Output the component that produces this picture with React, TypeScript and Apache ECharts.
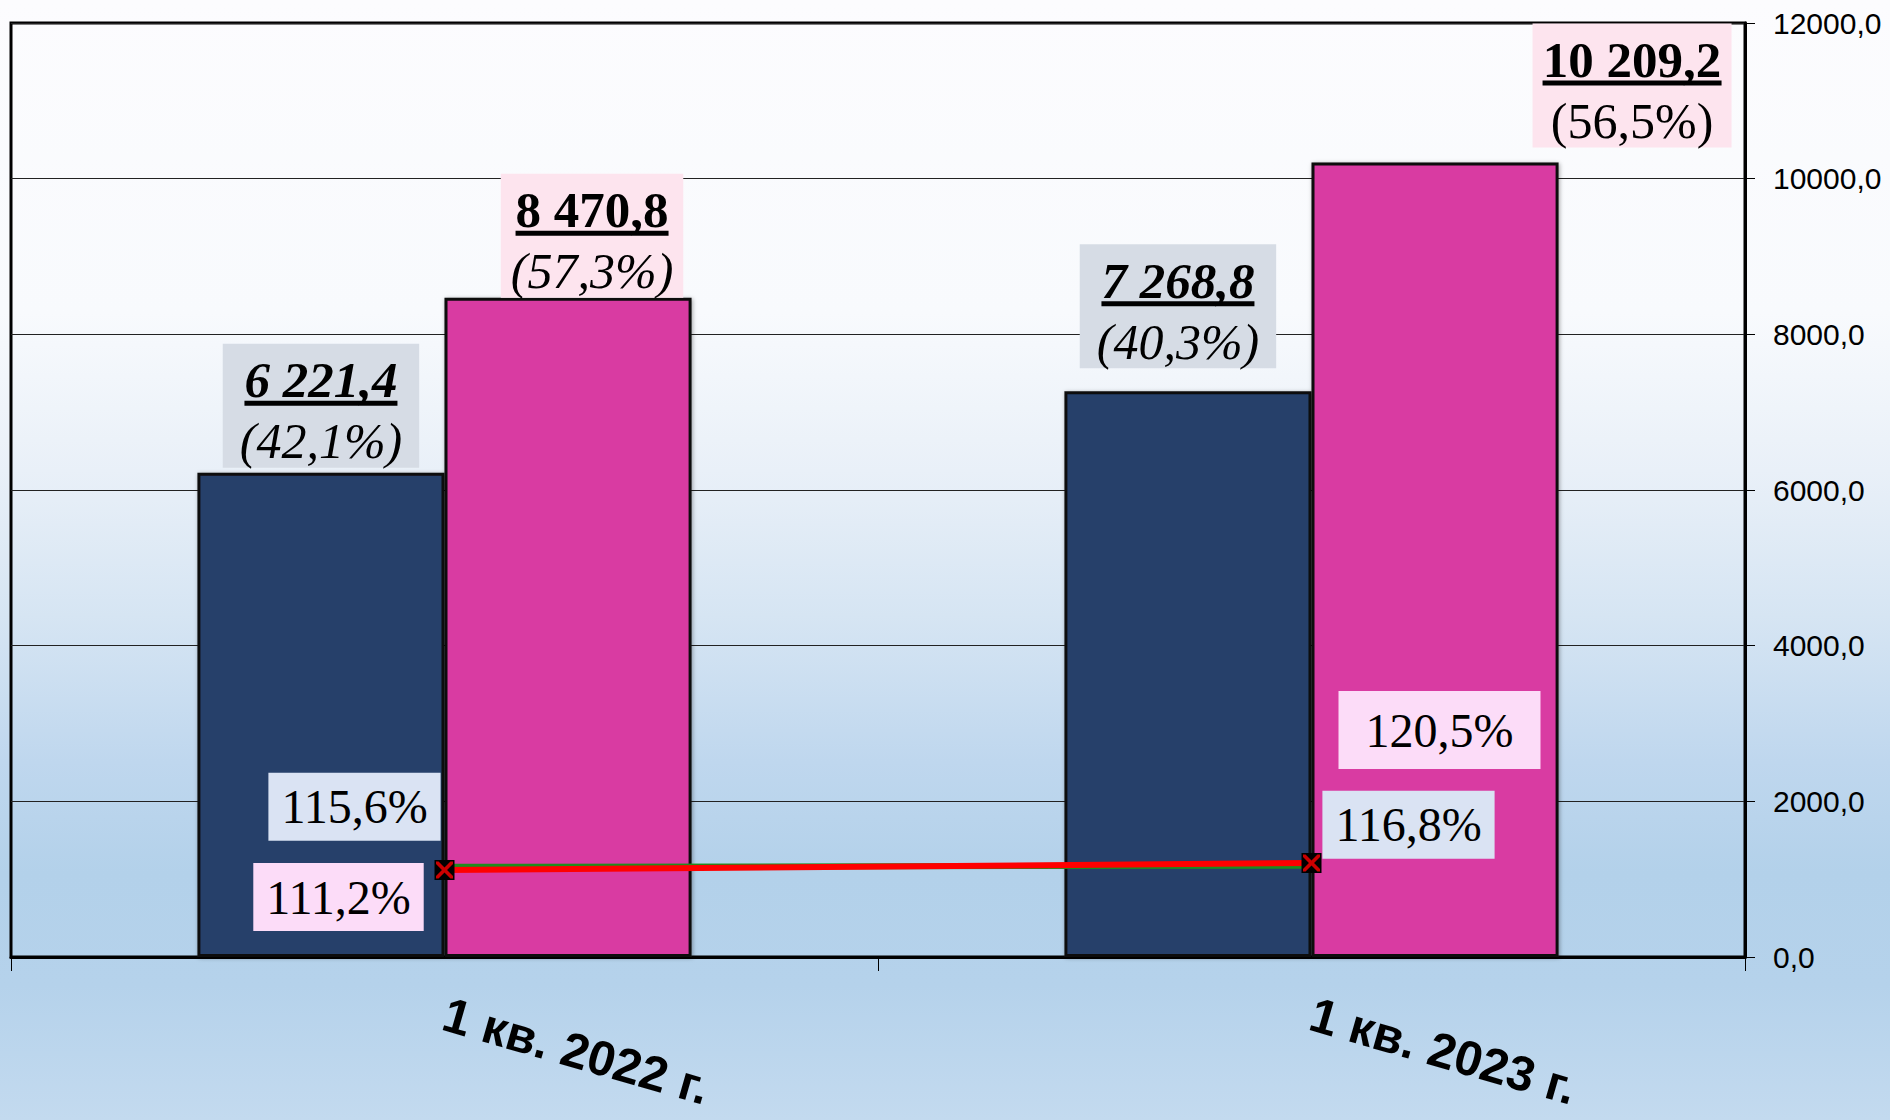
import React, { useEffect, useRef } from 'react';
import * as echarts from 'echarts';

// ---- data ----
const categories = ['1 кв. 2022 г.', '1 кв. 2023 г.'];
const navyValues = [6221.4, 7268.8];
const pinkValues = [8470.8, 10209.2];
const navyShares = [42.1, 40.3];
const pinkShares = [57.3, 56.5];
const navyGrowth = [115.6, 116.8];
const pinkGrowth = [111.2, 120.5];
const yMin = 0;
const yMax = 12000;
const yInterval = 2000;

// ---- styles ----
const SERIF = '"Liberation Serif", "Times New Roman", serif';
const SANS = '"Liberation Sans", Arial, sans-serif';
const NAVY = '#263f6b';
const PINK = '#d93aa2';
const navyLabelPos = [{ dx: 0, dist: 5 }, { dx: -10, dist: 23 }];
const pinkLabelPos = [{ dx: 24, dist: 0, pctItalic: true }, { dx: 197, dist: 15, pctItalic: false }];
const navyGrowthOffset = [[-90, -60], [97, -41]];
const pinkGrowthOffset = [[-106, 27], [128, -133]];
const pinkGrowthPadding = [[10, 13], [15, 27]];

function fmtNum(v: number): string {
  const [i, d] = v.toFixed(1).split('.');
  return i.replace(/\B(?=(\d{3})+(?!\d))/g, ' ') + ',' + d;
}
function fmtPct(v: number): string {
  return v.toFixed(1).replace('.', ',') + '%';
}

let measureCtx: CanvasRenderingContext2D | null = null;
function textWidth(text: string, font: string): number {
  if (!measureCtx) measureCtx = document.createElement('canvas').getContext('2d');
  if (!measureCtx) return text.length * 25;
  measureCtx.font = font;
  return measureCtx.measureText(text).width;
}

function barLabel(value: number, share: number, italicNum: boolean, italicPct: boolean,
  bg: string, dx: number, dist: number, padH: number) {
  const num = fmtNum(value);
  const w = textWidth(num, `${italicNum ? 'italic ' : ''}bold 51px "Liberation Serif"`);
  return {
    show: true,
    position: 'top',
    distance: dist,
    offset: [dx, 0],
    backgroundColor: bg,
    padding: [16, padH, 4, padH],
    formatter: `{v|${num}}\n{u| }\n{s| }\n{p|(${share.toFixed(1).replace('.', ',')}%)}`,
    rich: {
      v: { fontFamily: SERIF, fontSize: 51, fontWeight: 'bold', fontStyle: italicNum ? 'italic' : 'normal', lineHeight: 41, height: 41, align: 'center', color: '#000' },
      u: { height: 5, lineHeight: 5, width: Math.round(w), backgroundColor: '#000', fontSize: 1, align: 'center' },
      s: { height: 13, lineHeight: 13, fontSize: 1, align: 'center' },
      p: { fontFamily: SERIF, fontSize: 50, fontStyle: italicPct ? 'italic' : 'normal', lineHeight: 45, height: 45, align: 'center', color: '#000' },
    },
  };
}

const X_PATH = 'path://M0,0L3,0L10,7L17,0L20,0L20,3L13,10L20,17L20,20L17,20L10,13L3,20L0,20L0,17L7,10L0,3Z';

export default function App() {
  const ref = useRef<HTMLDivElement>(null);
  useEffect(() => {
    document.body.style.margin = '0';
    if (!ref.current) return;
    const chart = echarts.init(ref.current, null, { renderer: 'svg' });
    const option: any = {
      animation: false,
      backgroundColor: 'transparent',
      grid: {
        left: 11, right: 145, top: 23, bottom: 163,
        containLabel: false, outerBoundsMode: 'none',
        show: true, borderColor: '#000', borderWidth: 3, backgroundColor: 'transparent',
      },
      xAxis: {
        type: 'category',
        data: categories,
        axisLine: { show: true, lineStyle: { color: '#000', width: 3 } },
        axisTick: { show: true, length: 14, lineStyle: { color: '#000', width: 1 } },
        axisLabel: { interval: 0, rotate: -16, margin: 56, fontSize: 49, fontWeight: 'bold', fontFamily: SANS, color: '#000' },
        splitLine: { show: false },
      },
      yAxis: [
        {
          type: 'value', position: 'right', min: yMin, max: yMax, interval: yInterval,
          axisLine: { show: true, lineStyle: { color: '#000', width: 3 } },
          axisTick: { show: true, length: 10, lineStyle: { color: '#000', width: 1 } },
          axisLabel: { formatter: (v: number) => v.toFixed(1).replace('.', ','), fontSize: 30, color: '#000', fontFamily: SANS, margin: 28 },
          splitLine: { show: true, lineStyle: { color: '#222', width: 1 } },
        },
        { type: 'value', show: false, min: -4.3, max: 1236, splitLine: { show: false } },
      ],
      series: [
        {
          type: 'bar', name: 'Ряд 1', barGap: '0%', barCategoryGap: '43%',
          itemStyle: { color: NAVY, borderColor: '#0d0d0d', borderWidth: 3, shadowColor: 'rgba(0,0,0,0.35)', shadowBlur: 4, shadowOffsetX: 1, shadowOffsetY: 1 },
          data: navyValues.map((v, i) => ({
            value: v,
            label: barLabel(v, navyShares[i], true, true, '#d6dce5', navyLabelPos[i].dx, navyLabelPos[i].dist, 17),
          })),
        },
        {
          type: 'bar', name: 'Ряд 2',
          itemStyle: { color: PINK, borderColor: '#0d0d0d', borderWidth: 3, shadowColor: 'rgba(0,0,0,0.35)', shadowBlur: 4, shadowOffsetX: 1, shadowOffsetY: 1 },
          data: pinkValues.map((v, i) => ({
            value: v,
            label: barLabel(v, pinkShares[i], false, pinkLabelPos[i].pctItalic, '#fde4ee', pinkLabelPos[i].dx, pinkLabelPos[i].dist, 10),
          })),
        },
        {
          type: 'line', name: 'Темп 1', yAxisIndex: 1,
          lineStyle: { color: '#1e8c1e', width: 6 },
          symbol: 'circle', symbolSize: 2, itemStyle: { color: '#1e8c1e' },
          label: {
            show: true, position: 'inside', formatter: (p: any) => fmtPct(p.value),
            backgroundColor: '#dae3f3', padding: [10, 13], fontSize: 48, lineHeight: 48, fontFamily: SERIF, color: '#000',
          },
          data: navyGrowth.map((v, i) => ({ value: v, label: { offset: navyGrowthOffset[i] } })),
        },
        {
          type: 'line', name: 'Темп 2', yAxisIndex: 1,
          lineStyle: { color: '#ff0000', width: 6 },
          symbol: 'rect', symbolSize: 20, itemStyle: { color: '#000' },
          label: {
            show: true, position: 'inside', formatter: (p: any) => fmtPct(p.value),
            backgroundColor: '#fcdcf8', fontSize: 48, lineHeight: 48, fontFamily: SERIF, color: '#000',
          },
          data: pinkGrowth.map((v, i) => ({ value: v, label: { offset: pinkGrowthOffset[i], padding: pinkGrowthPadding[i] } })),
        },
        {
          type: 'scatter', name: 'Маркер', yAxisIndex: 1, silent: true, z: 10,
          symbol: X_PATH, symbolSize: 17, itemStyle: { color: '#ff0000' },
          data: pinkGrowth,
        },
      ],
    };
    chart.setOption(option);
    return () => chart.dispose();
  }, []);
  return (
    <div
      ref={ref}
      style={{
        width: 1890,
        height: 1120,
        background: 'linear-gradient(to bottom, #fcfcfe 0%, #f8fafd 28%, #e9f0f8 42%, #d6e5f3 55%, #bfd7ee 68%, #b3d1ea 78%, #b5d2eb 88%, #c3daef 100%)',
      }}
    />
  );
}
